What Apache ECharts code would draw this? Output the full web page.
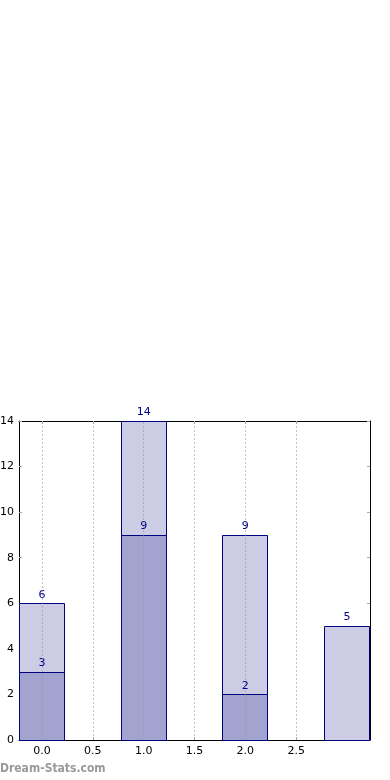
<!DOCTYPE html>
<html>
<head>
<meta charset="utf-8">
<script src="https://cdn.jsdelivr.net/npm/echarts@6/dist/echarts.min.js"></script>
<style>
html,body{margin:0;padding:0;background:#fff;}
#chart{width:390px;height:780px;}
</style>
</head>
<body>
<div id="chart"></div>
<script>
// Data
const positions = [0, 1, 2, 3];
const totalValues = [6, 14, 9, 5];
const subValues = [3, 9, 2, null];
const xTickValues = [0, 0.5, 1, 1.5, 2, 2.5];
const xTickLabels = ['0.0', '0.5', '1.0', '1.5', '2.0', '2.5'];
const yTickLabels = ['0', '2', '4', '6', '8', '10', '12', '14'];

const HALF = 0.225;
const FONT = 'DejaVu Sans';
const LABEL_COLOR = '#00008b';

function barRender(fill) {
  return function (params, api) {
    const x = api.value(0), y = api.value(1);
    if (y == null || isNaN(y)) return null;
    const p0 = api.coord([x - HALF, y]);
    const p1 = api.coord([x + HALF, 0]);
    const left = Math.round(p0[0]) + 0.5, top = Math.round(p0[1]) + 0.5;
    const right = Math.round(p1[0]) - 0.5, bottom = Math.round(p1[1]) + 0.5;
    return {
      type: 'group',
      children: [
        { type: 'rect', shape: { x: left, y: top, width: right - left, height: bottom - top },
          style: { fill: fill, stroke: '#000080', lineWidth: 1 } },
        { type: 'text', x: (p0[0] + p1[0]) / 2, y: p0[1] - 3, z2: 10,
          style: { text: String(y), textAlign: 'center', textVerticalAlign: 'bottom',
                   fill: LABEL_COLOR, font: '11px "' + FONT + '"' } }
      ]
    };
  };
}

const chart = echarts.init(document.getElementById('chart'), null, { renderer: 'canvas' });
const grid = { left: 19, right: 20, top: 421, bottom: 40, containLabel: false, outerBoundsMode: 'none' };
const tickStyle = { show: true, inside: true, length: 3, lineStyle: { color: '#aaa', width: 1 } };

chart.setOption({
  animation: false,
  backgroundColor: '#fff',
  grid: grid,
  textStyle: { fontFamily: FONT },
  xAxis: [
    {
      type: 'value', min: -HALF, max: 3 + HALF,
      axisLine: { show: true, onZero: false, lineStyle: { color: '#000', width: 1 } },
      axisTick: Object.assign({ customValues: xTickValues }, tickStyle),
      axisLabel: { customValues: xTickValues, color: '#000', fontSize: 11, fontFamily: FONT, margin: 6,
        formatter: v => xTickLabels[xTickValues.indexOf(Math.round(v * 10) / 10)] ?? '' },
      splitLine: { show: false }
    },
    {
      type: 'value', position: 'top', min: -HALF, max: 3 + HALF,
      axisLine: { show: true, onZero: false, lineStyle: { color: '#000', width: 1 } },
      axisTick: Object.assign({ customValues: xTickValues }, tickStyle),
      axisLabel: { show: false },
      splitLine: { show: false }
    }
  ],
  yAxis: [
    {
      type: 'value', min: 0, max: 14, interval: 2, position: 'left',
      axisLine: { show: true, onZero: false, lineStyle: { color: '#000', width: 1 } },
      axisTick: tickStyle,
      axisLabel: { color: '#000', fontSize: 11, fontFamily: FONT, margin: 5,
        formatter: v => yTickLabels[Math.round(v / 2)] },
      splitLine: { show: false }
    },
    {
      type: 'value', position: 'right', min: 0, max: 14, interval: 2,
      axisLine: { show: true, onZero: false, lineStyle: { color: '#000', width: 1 } },
      axisTick: tickStyle,
      axisLabel: { show: false },
      splitLine: { show: false }
    }
  ],
  series: [
    {
      type: 'custom', name: 'total', xAxisIndex: 0, yAxisIndex: 0, z: 2,
      renderItem: barRender('#ccccE5'),
      data: positions.map((p, i) => [p, totalValues[i]])
    },
    {
      type: 'custom', name: 'sub', xAxisIndex: 0, yAxisIndex: 0, z: 3,
      renderItem: barRender('#a3a3d0'),
      data: positions.map((p, i) => [p, subValues[i]]).filter(d => d[1] != null)
    },
    {
      type: 'line', xAxisIndex: 0, yAxisIndex: 0, z: 5, data: [], silent: true,
      markLine: {
        silent: true, symbol: 'none', animation: false, label: { show: false },
        lineStyle: { type: [2, 2], color: 'rgba(150,150,150,0.55)', width: 1 },
        data: xTickValues.map(v => ({ xAxis: v }))
      }
    }
  ],
  graphic: [
    { type: 'text', left: 0, top: 763,
      style: { text: 'Dream-Stats.com', fill: '#999', font: 'bold 12px "DejaVu Sans Condensed", "DejaVu Sans"' } }
  ]
});
</script>
</body>
</html>
